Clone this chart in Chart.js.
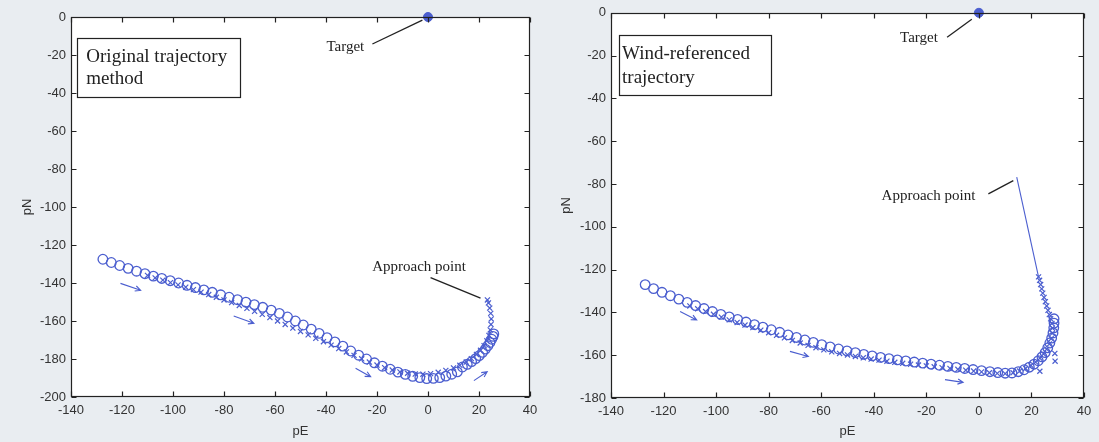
<!DOCTYPE html>
<html>
<head>
<meta charset="utf-8">
<title>pE / pN trajectories</title>
<script src="https://cdn.jsdelivr.net/npm/chart.js@4.4.0/dist/chart.umd.min.js"></script>
<style>
  html, body { margin: 0; padding: 0; background: #e9edf1; }
  .panels { position: relative; width: 1099px; height: 442px; overflow: hidden; }
  canvas { position: absolute; top: 0; }
  #left-chart { left: 0; }
  #right-chart { left: 549px; }
</style>
</head>
<body>
<div class="panels">
  <canvas id="left-chart" width="549" height="442"></canvas>
  <canvas id="right-chart" width="550" height="442"></canvas>
</div>
<script>
// axis ticks
const eTicks = [-140, -120, -100, -80, -60, -40, -20, 0, 20, 40];
const nTicksLeft = [-200, -180, -160, -140, -120, -100, -80, -60, -40, -20, 0];
const nTicksRight = [-180, -160, -140, -120, -100, -80, -60, -40, -20, 0];

const targetE = [0];
const targetN = [0];

// original trajectory method: reference path (o) and flown path (x)
const origCircleE = [-127.5, -124.2, -120.9, -117.6, -114.3, -111, -107.7, -104.4, -101.1, -97.8,
  -94.5, -91.2, -87.9, -84.6, -81.3, -78, -74.7, -71.4, -68.1, -64.8,
  -61.5, -58.3, -55.1, -52, -48.9, -45.8, -42.7, -39.6, -36.5, -33.4,
  -30.3, -27.2, -24.1, -21, -17.9, -14.8, -11.8, -8.9, -6, -3.2,
  -0.5, 2.1, 4.6, 7, 9.3, 11.5, 13.5, 15.4, 17.1, 18.7,
  20.1, 21.4, 22.5, 23.5, 24.3, 25, 25.5, 25.8];
const origCircleN = [-127.5, -129.2, -130.8, -132.3, -133.8, -135.1, -136.4, -137.6, -138.8, -140,
  -141.2, -142.4, -143.6, -144.9, -146.2, -147.5, -148.8, -150.1, -151.4, -152.8,
  -154.3, -156, -157.9, -160, -162.1, -164.3, -166.5, -168.8, -171, -173.2,
  -175.8, -178, -180, -182, -183.8, -185.4, -186.9, -188.1, -189.1, -189.8,
  -190.3, -190.2, -189.8, -189, -188, -186.8, -184.2, -182.8, -181.4, -179.8,
  -178.2, -176.5, -174.8, -173, -171.3, -169.6, -168.1, -166.8];
const origCrossE = [-110, -107, -104, -101, -98, -95, -92, -89, -86, -83,
  -80, -77, -74, -71, -68, -65, -62, -59, -56, -53,
  -50, -47, -44, -41, -38, -35, -32, -29, -26, -23,
  -20, -17, -14, -11, -8, -5, -2, 1, 4, 7,
  10, 12.5, 15, 17, 19, 20.6, 22, 23.1, 23.9, 24.4,
  24.7, 24.8, 24.6, 24.2, 23.7, 23.3];
const origCrossN = [-136, -137.3, -138.5, -139.8, -141, -142.2, -143.5, -144.8, -146.1, -147.5,
  -148.9, -150.3, -151.8, -153.3, -154.9, -156.5, -158.2, -160, -161.8, -163.7,
  -165.5, -167.3, -169.1, -170.9, -172.7, -174.5, -176.3, -178.1, -179.9, -181.6,
  -183.2, -184.6, -185.8, -186.8, -187.5, -187.9, -188, -187.7, -187, -186,
  -184.7, -183.3, -181.6, -179.8, -177.6, -175.4, -173, -170.4, -167.6, -164.7,
  -161.8, -158.9, -156, -153.2, -150.5, -148.9];

// wind-referenced trajectory
const windCircleE = [-127, -123.8, -120.6, -117.4, -114.2, -111, -107.8, -104.6, -101.4, -98.2,
  -95, -91.8, -88.6, -85.4, -82.2, -79, -75.8, -72.6, -69.4, -66.2,
  -63, -59.8, -56.6, -53.4, -50.2, -47, -43.8, -40.6, -37.4, -34.2,
  -31, -27.8, -24.6, -21.4, -18.2, -15, -11.8, -8.6, -5.4, -2.2,
  1, 4.2, 7.2, 10, 12.6, 15, 17.2, 19.2, 21, 22.6,
  24, 25.2, 26.2, 27, 27.7, 28.2, 28.5, 28.6, 28.6];
const windCircleN = [-127, -128.9, -130.6, -132.2, -133.8, -135.3, -136.8, -138.2, -139.6, -140.9,
  -142.1, -143.3, -144.5, -145.7, -146.9, -148.1, -149.3, -150.5, -151.7, -152.9,
  -154, -155.1, -156.1, -157.1, -158, -158.8, -159.6, -160.3, -161, -161.6,
  -162.2, -162.7, -163.2, -163.7, -164.2, -164.7, -165.2, -165.7, -166.2, -166.7,
  -167.2, -167.7, -168.1, -168.4, -168.3, -167.7, -166.8, -165.6, -164.2, -162.6,
  -160.8, -158.8, -156.6, -154.3, -152, -149.6, -147.2, -145, -143];
const windCrossE = [-110, -107, -104, -101, -98, -95, -92, -89, -86, -83,
  -80, -77, -74, -71, -68, -65, -62, -59, -56, -53,
  -50, -47, -44, -41, -38, -35, -32, -29, -26, -23,
  -20, -17, -14, -11, -8, -5, -2, 1, 4, 7,
  10, 13, 15.5, 17.8, 19.8, 21.6, 23.2, 24.6, 25.8, 26.8,
  27.5, 27.9, 28, 27.8, 27.3, 26.8, 26.3, 25.8, 25.3, 24.8,
  24.3, 23.9, 23.5, 23.1, 22.7, 28.9, 29, 23.2];
const windCrossN = [-137, -138.3, -139.6, -140.9, -142.2, -143.5, -144.7, -145.9, -147.1, -148.3,
  -149.5, -150.7, -151.9, -153.1, -154.3, -155.4, -156.5, -157.5, -158.4, -159.2,
  -159.9, -160.6, -161.2, -161.8, -162.3, -162.8, -163.3, -163.8, -164.2, -164.6,
  -165, -165.4, -165.8, -166.2, -166.6, -167, -167.4, -167.8, -168.2, -168.5,
  -168.6, -168.2, -167.4, -166.2, -164.8, -163.2, -161.4, -159.4, -157.2, -154.8,
  -152.3, -149.8, -147.4, -145.2, -143, -141, -139, -137, -135, -133,
  -131, -129, -127, -125, -123.4, -159.2, -162.8, -167.5];
// straight leg out to the approach point
const windLegE = [22.7, 14.4];
const windLegN = [-123.4, -76.8];

const BLUE = '#4b5ecf';
const INK = '#222222';
const AXIS_TEXT = '#333333';

function toPoints(es, ns) {
    return es.map((e, i) => ({ x: e, y: ns[i] }));
}

function drawArrow(ctx, x1, y1, x2, y2) {
    const ang = Math.atan2(y2 - y1, x2 - x1);
    const len = 6;
    ctx.beginPath();
    ctx.moveTo(x1, y1);
    ctx.lineTo(x2, y2);
    ctx.moveTo(x2 - len * Math.cos(ang - 0.45), y2 - len * Math.sin(ang - 0.45));
    ctx.lineTo(x2, y2);
    ctx.lineTo(x2 - len * Math.cos(ang + 0.45), y2 - len * Math.sin(ang + 0.45));
    ctx.stroke();
}

function framePlugin(notes) {
    return {
        id: 'frame',
        beforeDraw(chart) {
            const { ctx, chartArea: a } = chart;
            ctx.save();
            ctx.fillStyle = '#e9edf1';
            ctx.fillRect(0, 0, chart.width, chart.height);
            ctx.fillStyle = '#ffffff';
            ctx.fillRect(a.left, a.top, a.right - a.left, a.bottom - a.top);
            ctx.restore();
        },
        afterDatasetsDraw(chart) {
            const { ctx, chartArea: a, scales } = chart;
            const xs = scales.x, ys = scales.y;
            const px = (e, n) => [xs.getPixelForValue(e), ys.getPixelForValue(n)];
            const L = Math.round(a.left) + 0.5, R = Math.round(a.right) - 0.5;
            const T = Math.round(a.top) + 0.5, B = Math.round(a.bottom) - 0.5;

            ctx.save();
            ctx.strokeStyle = INK;
            ctx.lineWidth = 1.2;
            ctx.strokeRect(L, T, R - L, B - T);

            // inward tick marks on all four sides
            ctx.beginPath();
            xs.ticks.forEach(t => {
                const x = Math.round(xs.getPixelForValue(t.value)) + 0.5;
                ctx.moveTo(x, B); ctx.lineTo(x, B - 5);
                ctx.moveTo(x, T); ctx.lineTo(x, T + 5);
            });
            ys.ticks.forEach(t => {
                const y = Math.round(ys.getPixelForValue(t.value)) + 0.5;
                ctx.moveTo(L, y); ctx.lineTo(L + 5, y);
                ctx.moveTo(R, y); ctx.lineTo(R - 5, y);
            });
            ctx.stroke();

            // direction arrows along the path
            ctx.strokeStyle = BLUE;
            ctx.lineWidth = 1.1;
            notes.arrows.forEach(ar => {
                const [x1, y1] = px(ar[0], ar[1]);
                const [x2, y2] = px(ar[2], ar[3]);
                drawArrow(ctx, x1, y1, x2, y2);
            });

            // leader lines
            ctx.strokeStyle = INK;
            ctx.lineWidth = 1.3;
            notes.leaders.forEach(ld => {
                const [x1, y1] = px(ld[0], ld[1]);
                const [x2, y2] = px(ld[2], ld[3]);
                ctx.beginPath();
                ctx.moveTo(x1, y1);
                ctx.lineTo(x2, y2);
                ctx.stroke();
            });

            ctx.fillStyle = INK;
            ctx.font = '15px "Liberation Serif", "Times New Roman", serif';
            ctx.textAlign = 'center';
            ctx.textBaseline = 'middle';
            notes.labels.forEach(lb => {
                const [x, y] = px(lb.e, lb.n);
                ctx.fillText(lb.text, x, y);
            });

            // caption box
            const bx = notes.box;
            const [bx1, by1] = px(bx.e1, bx.n1);
            const [bx2, by2] = px(bx.e2, bx.n2);
            ctx.fillStyle = '#ffffff';
            ctx.fillRect(bx1, by1, bx2 - bx1, by2 - by1);
            ctx.lineWidth = 1.2;
            ctx.strokeRect(Math.round(bx1) + 0.5, Math.round(by1) + 0.5, Math.round(bx2 - bx1), Math.round(by2 - by1));
            ctx.fillStyle = INK;
            ctx.font = '19px "Liberation Serif", "Times New Roman", serif';
            ctx.textAlign = 'left';
            bx.lines.forEach((line, i) => {
                const [x, y] = px(bx.textE, bx.lineN[i]);
                ctx.fillText(line, x, y);
            });
            ctx.restore();
        }
    };
}

function makeChart(id, cfg) {
    const datasets = [
        {
            data: toPoints(targetE, targetN),
            pointStyle: 'circle', pointRadius: 4.5,
            backgroundColor: BLUE, borderColor: BLUE, borderWidth: 1,
            clip: false
        },
        {
            data: toPoints(cfg.crossE, cfg.crossN),
            pointStyle: 'crossRot', pointRadius: 3.6,
            borderColor: BLUE, backgroundColor: 'rgba(0,0,0,0)', borderWidth: 1.2
        },
        {
            data: toPoints(cfg.circleE, cfg.circleN),
            pointStyle: 'circle', pointRadius: 4.8,
            borderColor: BLUE, backgroundColor: 'rgba(0,0,0,0)', borderWidth: 1.3
        }
    ];
    if (cfg.legE) {
        datasets.push({
            data: toPoints(cfg.legE, cfg.legN),
            showLine: true, pointRadius: 0,
            borderColor: BLUE, borderWidth: 1.1
        });
    }

    const tickFont = { family: '"Liberation Sans", Arial, sans-serif', size: 13 };

    return new Chart(document.getElementById(id), {
        type: 'scatter',
        data: { datasets },
        options: {
            responsive: false,
            animation: false,
            events: [],
            layout: { padding: cfg.padding },
            plugins: { legend: { display: false }, tooltip: { enabled: false } },
            scales: {
                x: {
                    type: 'linear',
                    min: eTicks[0], max: eTicks[eTicks.length - 1],
                    afterBuildTicks: axis => { axis.ticks = eTicks.map(v => ({ value: v })); },
                    afterFit: axis => { axis.height = cfg.xHeight; },
                    grid: { display: false, drawTicks: false },
                    border: { display: false },
                    ticks: { font: tickFont, color: AXIS_TEXT, padding: 6, maxRotation: 0, autoSkip: false },
                    title: { display: true, text: 'pE', font: tickFont, color: AXIS_TEXT, padding: { top: 0, bottom: 3 } }
                },
                y: {
                    type: 'linear',
                    min: cfg.nTicks[0], max: cfg.nTicks[cfg.nTicks.length - 1],
                    afterBuildTicks: axis => { axis.ticks = cfg.nTicks.map(v => ({ value: v })); },
                    afterFit: axis => { axis.width = cfg.yWidth; },
                    grid: { display: false, drawTicks: false },
                    border: { display: false },
                    ticks: { font: tickFont, color: AXIS_TEXT, padding: 5, autoSkip: false },
                    title: { display: true, text: 'pN', font: tickFont, color: AXIS_TEXT, padding: { top: cfg.yTitlePad, bottom: 0 } }
                }
            }
        },
        plugins: [framePlugin(cfg.notes)]
    });
}

makeChart('left-chart', {
    circleE: origCircleE, circleN: origCircleN,
    crossE: origCrossE, crossN: origCrossN,
    nTicks: nTicksLeft,
    padding: { left: 0, right: 19, top: 17, bottom: 0 },
    yWidth: 71, xHeight: 45, yTitlePad: 20,
    notes: {
        arrows: [
            [-120.6, -140.2, -112.7, -143.8],
            [-76.2, -157.4, -68.3, -161.2],
            [-28.4, -184.9, -22.5, -189.3],
            [18, -191.4, 23.2, -186.7]
        ],
        leaders: [
            [-21.8, -14.2, -2.2, -1.6],
            [1, -137.2, 20.6, -148]
        ],
        labels: [
            { text: 'Target', e: -32.4, n: -15.8 },
            { text: 'Approach point', e: -3.5, n: -131.6 }
        ],
        box: {
            e1: -137.5, n1: -11, e2: -73.5, n2: -42,
            textE: -134, lineN: [-21, -32.6],
            lines: ['Original trajectory', 'method']
        }
    }
});

makeChart('right-chart', {
    circleE: windCircleE, circleN: windCircleN,
    crossE: windCrossE, crossN: windCrossN,
    legE: windLegE, legN: windLegN,
    nTicks: nTicksRight,
    padding: { left: 0, right: 15, top: 12, bottom: 0 },
    yWidth: 62, xHeight: 44, yTitlePad: 10,
    notes: {
        arrows: [
            [-113.7, -139.6, -107.4, -143.5],
            [-71.9, -158.2, -64.9, -160.6],
            [-12.9, -171.4, -6, -172.7]
        ],
        leaders: [
            [-12.1, -11.4, -2.7, -3],
            [3.6, -84.6, 13.1, -78.4]
        ],
        labels: [
            { text: 'Target', e: -22.8, n: -11.9 },
            { text: 'Approach point', e: -19.2, n: -85.8 }
        ],
        box: {
            e1: -137.1, n1: -10.6, e2: -79.2, n2: -38.8,
            textE: -135.8, lineN: [-19.3, -30.5],
            lines: ['Wind-referenced', 'trajectory']
        }
    }
});
</script>
</body>
</html>
